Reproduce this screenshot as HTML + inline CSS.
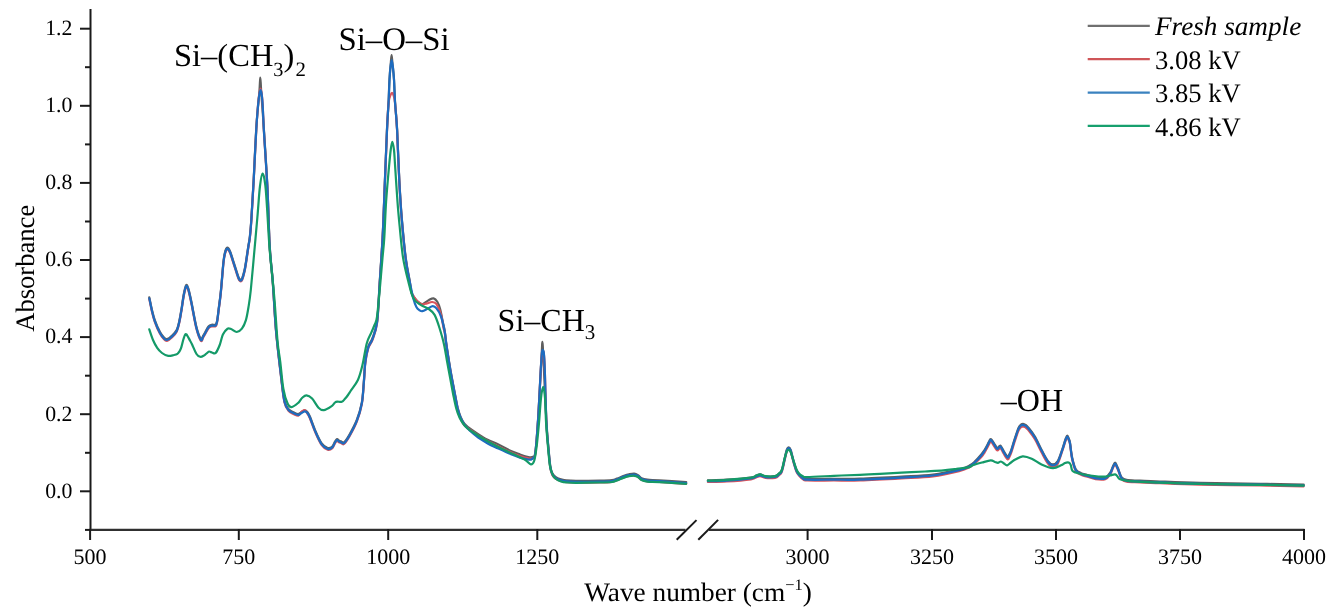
<!DOCTYPE html>
<html><head><meta charset="utf-8"><style>
html,body{margin:0;padding:0;background:#fff;}
body{width:1342px;height:611px;overflow:hidden;font-family:"Liberation Serif",serif;}
svg{display:block;filter:blur(0.35px);}
text{fill:#000;text-rendering:geometricPrecision;}
</style></head><body>
<svg width="1342" height="611" viewBox="0 0 1342 611">
<rect width="1342" height="611" fill="#fff"/>
<path d="M149.3,297.4 C149.8,299.5 151.1,306.4 152.0,310.1 C152.9,313.9 153.4,316.2 154.7,319.9 C156.0,323.6 158.4,329.2 160.0,332.1 C161.6,335.1 162.8,336.4 164.0,337.6 C165.2,338.8 165.8,339.4 167.0,339.1 C168.2,338.9 169.9,337.7 171.5,336.1 C173.1,334.6 175.5,332.5 176.8,329.8 C178.1,327.1 178.7,323.8 179.5,320.1 C180.3,316.4 180.9,312.2 181.7,307.7 C182.4,303.2 183.2,296.9 184.0,293.1 C184.8,289.3 185.4,285.8 186.2,285.1 C186.9,284.4 187.6,286.2 188.5,289.1 C189.4,292.1 190.3,296.4 191.6,302.8 C192.9,309.2 194.9,321.2 196.5,327.3 C198.1,333.4 199.8,337.6 200.9,339.1 C202.0,340.6 202.3,337.2 203.0,336.1 C203.7,335.0 204.3,333.9 205.2,332.3 C206.1,330.7 207.4,327.8 208.5,326.5 C209.6,325.2 210.6,325.0 211.8,324.7 C213.0,324.4 214.8,325.3 215.7,324.5 C216.6,323.7 216.7,322.5 217.2,320.1 C217.7,317.7 218.0,314.1 218.5,310.1 C219.0,306.1 219.8,300.4 220.3,296.1 C220.8,291.8 221.0,289.9 221.5,284.1 C222.0,278.3 222.9,266.6 223.5,261.1 C224.1,255.6 224.7,253.3 225.3,251.1 C226.0,248.9 226.6,247.7 227.4,247.7 C228.2,247.7 229.0,248.9 230.0,251.1 C231.0,253.3 232.2,257.8 233.3,261.1 C234.4,264.4 235.6,268.4 236.5,271.1 C237.4,273.8 237.9,275.7 238.5,277.1 C239.1,278.5 239.6,279.4 240.2,279.6 C240.8,279.8 241.5,279.7 242.2,278.1 C242.9,276.5 243.8,273.2 244.5,270.1 C245.2,267.0 245.7,263.6 246.3,259.6 C246.9,255.6 247.7,250.0 248.3,246.1 C248.9,242.2 249.4,240.7 249.9,236.1 C250.4,231.5 250.8,227.8 251.4,218.3 C252.0,208.8 252.9,194.2 253.7,179.1 C254.5,164.0 255.4,142.2 256.3,127.9 C257.2,113.6 258.6,101.4 259.3,93.0 C260.0,84.6 260.0,77.5 260.3,77.5 C260.6,77.5 260.7,84.6 261.3,93.0 C261.9,101.4 262.8,112.3 263.8,127.9 C264.8,143.5 266.4,167.1 267.4,186.7 C268.4,206.3 268.8,230.0 269.7,245.6 C270.6,261.2 271.6,266.2 272.7,280.2 C273.8,294.2 274.6,313.2 276.0,329.4 C277.4,345.6 279.9,365.5 281.3,377.4 C282.7,389.3 283.3,395.5 284.5,400.8 C285.7,406.1 287.1,407.4 288.7,409.3 C290.3,411.2 292.4,411.7 294.0,412.5 C295.6,413.3 297.1,414.1 298.3,414.0 C299.6,413.9 300.4,412.7 301.5,412.1 C302.6,411.5 303.7,410.4 304.7,410.4 C305.7,410.4 306.6,411.0 307.5,412.1 C308.4,413.2 308.7,413.7 310.0,416.8 C311.3,419.9 313.4,426.2 315.3,430.6 C317.2,435.0 319.6,440.5 321.7,443.4 C323.8,446.3 325.9,447.5 327.7,448.0 C329.5,448.5 331.1,447.6 332.3,446.5 C333.5,445.4 334.2,442.8 335.0,441.6 C335.8,440.4 336.3,439.3 337.0,439.1 C337.7,438.9 338.4,440.2 339.0,440.6 C339.6,441.0 340.1,440.9 340.9,441.2 C341.7,441.5 342.6,443.4 344.0,442.3 C345.4,441.2 347.3,438.5 349.4,434.8 C351.5,431.1 354.7,425.4 356.8,420.0 C358.9,414.6 360.6,408.9 361.8,402.6 C363.0,396.3 363.2,389.0 363.8,382.1 C364.4,375.2 364.6,367.4 365.3,361.5 C366.0,355.6 367.0,350.6 368.2,346.7 C369.4,342.8 371.1,342.2 372.6,337.9 C374.1,333.6 375.9,330.1 377.1,321.1 C378.3,312.1 378.7,297.9 379.6,283.8 C380.5,269.8 381.7,253.6 382.6,236.8 C383.5,220.0 384.1,200.9 384.8,183.0 C385.5,165.1 386.4,142.8 387.0,129.1 C387.6,115.4 388.2,109.4 388.6,101.1 C389.0,92.8 389.1,85.3 389.5,79.1 C389.9,72.9 390.3,68.0 390.7,64.0 C391.1,60.0 391.3,55.0 391.6,55.0 C391.9,55.0 392.1,60.0 392.5,64.0 C392.9,68.0 393.6,72.9 394.0,79.1 C394.4,85.3 394.5,92.8 395.0,101.1 C395.5,109.4 396.4,115.9 397.1,129.1 C397.8,142.3 398.5,165.2 399.3,180.1 C400.1,195.0 400.7,205.5 401.8,218.4 C402.9,231.3 404.4,247.4 405.7,257.7 C407.0,268.0 408.6,274.3 409.6,280.1 C410.6,285.9 410.7,289.7 411.5,292.6 C412.3,295.6 413.5,296.3 414.5,297.8 C415.5,299.3 416.2,300.3 417.4,301.4 C418.6,302.5 420.5,304.0 421.8,304.2 C423.1,304.4 423.8,303.3 425.0,302.6 C426.2,301.9 427.6,300.7 429.0,300.0 C430.4,299.3 432.2,298.1 433.6,298.4 C435.0,298.7 436.2,300.0 437.3,301.8 C438.4,303.6 439.3,305.9 440.2,309.3 C441.1,312.7 442.1,318.5 442.8,322.0 C443.5,325.5 444.0,326.7 444.6,330.1 C445.2,333.5 445.5,337.4 446.2,342.6 C446.9,347.8 448.1,355.2 449.0,361.1 C449.9,367.0 450.9,372.6 451.9,377.9 C452.9,383.2 453.9,388.2 454.8,393.1 C455.8,398.0 456.7,403.5 457.6,407.4 C458.6,411.3 459.4,413.9 460.5,416.6 C461.6,419.3 462.5,421.4 464.4,423.6 C466.3,425.8 468.7,427.7 471.9,430.0 C475.1,432.3 479.3,435.2 483.7,437.6 C488.1,440.0 493.8,442.4 498.4,444.6 C502.9,446.8 507.4,449.4 511.0,451.0 C514.6,452.6 517.3,453.5 520.0,454.5 C522.7,455.5 525.3,456.4 527.3,456.8 C529.3,457.2 530.7,457.8 532.0,457.0 C533.3,456.2 534.3,459.0 535.3,452.3 C536.3,445.6 537.2,433.0 538.2,416.9 C539.2,400.9 540.9,368.5 541.6,356.0 C542.3,343.5 542.1,341.8 542.4,341.8 C542.7,341.8 542.6,343.1 543.3,356.0 C543.9,368.9 545.5,404.1 546.3,419.1 C547.1,434.1 547.6,438.3 548.3,446.1 C549.0,453.9 549.6,461.5 550.3,466.1 C551.0,470.7 551.6,471.8 552.5,473.6 C553.4,475.4 554.2,476.0 555.5,476.9 C556.8,477.8 558.2,478.5 560.0,479.1 C561.8,479.7 563.3,480.1 566.0,480.4 C568.7,480.7 570.3,480.9 576.0,480.9 C581.7,481.0 594.0,480.8 600.0,480.7 C606.0,480.6 609.2,480.5 612.0,480.1 C614.8,479.8 615.0,479.3 617.0,478.6 C619.0,477.9 622.0,476.4 624.0,475.7 C626.0,475.0 627.3,474.6 629.0,474.3 C630.7,474.0 632.7,473.6 634.2,473.7 C635.7,473.8 636.8,474.4 638.0,475.1 C639.2,475.8 640.0,477.3 641.5,478.1 C643.0,478.9 644.3,479.3 647.3,479.7 C650.2,480.1 652.7,479.9 659.2,480.3 C665.7,480.7 681.7,481.8 686.2,482.1" fill="none" stroke="#5e5e5e" stroke-width="2.2" stroke-linejoin="round" stroke-linecap="round"/>
<path d="M707.9,480.3 C711.0,480.2 719.6,480.2 726.8,479.7 C734.0,479.3 746.0,478.3 751.0,477.6 C756.0,476.9 755.0,476.0 756.5,475.5 C758.0,475.0 758.7,474.3 760.2,474.4 C761.7,474.5 763.0,476.0 765.5,476.3 C768.0,476.6 772.9,476.6 775.1,476.1 C777.4,475.7 777.9,474.6 779.0,473.6 C780.1,472.6 780.9,472.5 781.8,470.1 C782.7,467.7 783.7,462.5 784.5,459.1 C785.3,455.7 786.1,451.6 786.8,449.6 C787.5,447.6 788.1,447.2 788.8,447.3 C789.5,447.4 789.9,447.7 790.8,450.1 C791.6,452.6 792.9,458.7 793.9,462.0 C794.9,465.3 795.6,468.1 796.5,470.1 C797.4,472.1 798.1,472.9 799.2,474.1 C800.3,475.4 801.6,476.8 803.0,477.6 C804.4,478.4 802.1,478.6 807.3,478.8 C812.5,479.0 825.2,478.8 834.0,478.8 C842.8,478.8 848.7,479.1 860.0,478.7 C871.3,478.4 889.5,477.4 901.7,476.7 C913.9,476.0 923.4,475.8 933.0,474.6 C942.6,473.4 953.0,470.9 959.1,469.4 C965.2,467.9 966.9,466.9 969.5,465.6 C972.1,464.3 973.0,463.3 975.0,461.4 C977.0,459.5 979.9,456.2 981.5,454.3 C983.1,452.4 983.6,451.5 984.5,450.1 C985.4,448.7 986.0,447.6 986.8,446.1 C987.6,444.6 988.5,442.4 989.2,441.3 C989.9,440.2 990.1,438.6 991.0,439.2 C991.9,439.8 993.8,443.2 994.8,444.7 C995.8,446.2 996.5,447.8 997.3,448.0 C998.1,448.2 998.9,446.4 999.5,446.1 C1000.1,445.8 1000.2,445.2 1000.9,446.1 C1001.6,447.0 1002.7,449.5 1003.8,451.3 C1004.9,453.1 1006.5,456.2 1007.5,456.7 C1008.5,457.2 1008.8,455.3 1009.5,454.1 C1010.2,452.9 1010.6,451.9 1011.5,449.3 C1012.4,446.7 1013.6,442.2 1014.8,438.6 C1016.0,435.1 1017.5,430.3 1018.5,428.0 C1019.5,425.7 1020.2,425.3 1021.0,424.6 C1021.8,423.9 1022.2,423.9 1023.0,423.9 C1023.8,424.0 1024.6,424.3 1025.5,424.9 C1026.4,425.5 1026.8,425.7 1028.4,427.6 C1030.0,429.6 1032.7,432.9 1034.9,436.6 C1037.1,440.3 1039.3,445.6 1041.5,449.7 C1043.7,453.8 1046.1,458.7 1048.0,461.1 C1049.9,463.6 1051.3,464.4 1052.9,464.4 C1054.5,464.4 1056.2,463.8 1057.8,461.1 C1059.4,458.4 1061.4,451.7 1062.7,448.0 C1064.0,444.3 1064.7,441.2 1065.5,439.1 C1066.3,437.1 1066.7,435.7 1067.3,435.7 C1067.9,435.7 1068.5,437.9 1069.0,439.1 C1069.5,440.3 1069.6,440.0 1070.1,443.1 C1070.6,446.2 1071.2,453.4 1072.2,457.8 C1073.2,462.2 1074.3,466.8 1075.8,469.3 C1077.3,471.9 1079.1,472.2 1081.0,473.1 C1082.9,474.1 1084.9,474.3 1087.3,475.0 C1089.7,475.7 1092.5,477.1 1095.5,477.5 C1098.5,477.9 1102.8,478.3 1105.3,477.5 C1107.8,476.7 1108.9,474.5 1110.2,472.6 C1111.5,470.7 1112.2,467.8 1113.0,466.1 C1113.8,464.5 1114.4,462.7 1115.1,462.7 C1115.8,462.7 1116.5,465.0 1117.0,466.1 C1117.5,467.2 1117.6,467.4 1118.4,469.3 C1119.2,471.2 1120.3,475.7 1121.7,477.5 C1123.1,479.3 1123.5,479.4 1126.6,479.9 C1129.6,480.4 1134.4,480.4 1140.0,480.7 C1145.6,481.0 1150.0,481.1 1160.0,481.5 C1170.0,481.9 1183.3,482.5 1200.0,482.9 C1216.7,483.3 1242.7,483.5 1260.0,483.8 C1277.3,484.1 1296.4,484.5 1303.7,484.6" fill="none" stroke="#5e5e5e" stroke-width="2.2" stroke-linejoin="round" stroke-linecap="round"/>
<path d="M149.3,299.1 C149.8,301.2 151.1,308.1 152.0,311.8 C152.9,315.6 153.4,317.9 154.7,321.6 C156.0,325.3 158.4,330.9 160.0,333.8 C161.6,336.8 162.8,338.1 164.0,339.3 C165.2,340.5 165.8,341.1 167.0,340.8 C168.2,340.6 169.9,339.4 171.5,337.8 C173.1,336.2 175.5,334.2 176.8,331.5 C178.1,328.8 178.7,325.5 179.5,321.8 C180.3,318.1 180.9,313.9 181.7,309.4 C182.4,304.9 183.2,298.6 184.0,294.8 C184.8,291.0 185.4,287.5 186.2,286.8 C186.9,286.1 187.6,287.9 188.5,290.8 C189.4,293.8 190.3,298.1 191.6,304.5 C192.9,310.9 194.9,322.9 196.5,329.0 C198.1,335.1 199.8,339.3 200.9,340.8 C202.0,342.3 202.3,338.9 203.0,337.8 C203.7,336.7 204.3,335.6 205.2,334.0 C206.1,332.4 207.4,329.5 208.5,328.2 C209.6,326.9 210.6,326.7 211.8,326.4 C213.0,326.1 214.8,327.0 215.7,326.2 C216.6,325.4 216.7,324.2 217.2,321.8 C217.7,319.4 218.0,315.8 218.5,311.8 C219.0,307.8 219.8,302.1 220.3,297.8 C220.8,293.5 221.0,291.6 221.5,285.8 C222.0,280.0 222.9,268.3 223.5,262.8 C224.1,257.3 224.7,255.0 225.3,252.8 C226.0,250.6 226.6,249.4 227.4,249.4 C228.2,249.4 229.0,250.6 230.0,252.8 C231.0,255.0 232.2,259.5 233.3,262.8 C234.4,266.1 235.6,270.1 236.5,272.8 C237.4,275.5 237.9,277.4 238.5,278.8 C239.1,280.2 239.6,281.1 240.2,281.3 C240.8,281.5 241.5,281.4 242.2,279.8 C242.9,278.2 243.8,274.9 244.5,271.8 C245.2,268.7 245.7,265.3 246.3,261.3 C246.9,257.3 247.7,251.7 248.3,247.8 C248.9,243.9 249.4,242.4 249.9,237.8 C250.4,233.2 250.8,229.5 251.4,220.0 C252.0,210.5 252.9,195.9 253.7,180.8 C254.5,165.7 255.5,142.8 256.3,129.2 C257.1,115.6 257.9,106.0 258.6,99.2 C259.3,92.4 259.9,88.6 260.5,88.6 C261.1,88.6 261.8,92.4 262.3,99.2 C262.9,106.0 263.0,114.3 263.8,129.2 C264.6,144.0 266.4,168.7 267.4,188.4 C268.4,208.1 268.8,231.7 269.7,247.3 C270.6,262.9 271.6,267.9 272.7,281.9 C273.8,295.9 274.6,314.9 276.0,331.1 C277.4,347.3 279.9,367.2 281.3,379.1 C282.7,391.0 283.3,397.2 284.5,402.5 C285.7,407.8 287.1,409.1 288.7,411.0 C290.3,412.9 292.4,413.4 294.0,414.2 C295.6,415.0 297.1,416.1 298.3,415.7 C299.6,415.3 300.4,412.7 301.5,411.8 C302.6,410.9 303.7,409.8 304.7,410.1 C305.7,410.4 306.6,412.4 307.5,413.8 C308.4,415.2 308.7,415.4 310.0,418.5 C311.3,421.6 313.4,427.9 315.3,432.3 C317.2,436.7 319.6,442.2 321.7,445.1 C323.8,448.0 325.9,449.2 327.7,449.7 C329.5,450.2 331.1,449.3 332.3,448.2 C333.5,447.1 334.2,444.5 335.0,443.3 C335.8,442.1 336.3,441.0 337.0,440.8 C337.7,440.6 338.4,441.9 339.0,442.3 C339.6,442.7 340.1,442.6 340.9,442.9 C341.7,443.2 342.6,445.1 344.0,444.0 C345.4,442.9 347.3,440.2 349.4,436.5 C351.5,432.8 354.7,427.1 356.8,421.7 C358.9,416.3 360.6,410.6 361.8,404.3 C363.0,398.0 363.2,390.7 363.8,383.8 C364.4,376.9 364.6,369.1 365.3,363.2 C366.0,357.3 367.0,352.3 368.2,348.4 C369.4,344.5 371.1,343.9 372.6,339.6 C374.1,335.3 375.9,331.8 377.1,322.8 C378.3,313.8 378.7,299.6 379.6,285.5 C380.5,271.4 381.7,255.3 382.6,238.5 C383.5,221.7 384.1,202.7 384.8,184.7 C385.5,166.8 386.4,144.5 387.0,130.8 C387.6,117.2 388.0,108.8 388.6,102.8 C389.2,96.8 390.0,96.7 390.6,95.0 C391.2,93.3 391.5,92.8 392.0,92.8 C392.5,92.8 392.9,93.3 393.4,95.0 C393.9,96.7 394.4,96.8 395.0,102.8 C395.6,108.8 396.4,117.6 397.1,130.8 C397.8,144.0 398.5,166.9 399.3,181.8 C400.1,196.7 400.7,207.2 401.8,220.1 C402.9,233.0 404.4,249.1 405.7,259.4 C407.0,269.7 408.6,276.3 409.6,281.8 C410.6,287.3 410.7,289.8 411.5,292.4 C412.3,295.0 413.5,296.1 414.5,297.6 C415.5,299.1 416.2,300.1 417.4,301.2 C418.6,302.3 420.2,303.9 421.8,304.3 C423.4,304.7 425.3,303.8 427.0,303.4 C428.7,303.0 430.5,301.9 432.1,302.0 C433.7,302.1 435.0,302.1 436.5,304.2 C438.0,306.3 439.8,310.5 441.0,314.5 C442.2,318.5 442.9,325.1 443.5,328.0 C444.1,330.9 444.2,329.1 444.6,331.8 C445.1,334.5 445.5,339.1 446.2,344.3 C446.9,349.5 448.1,356.9 449.0,362.8 C449.9,368.7 450.9,374.3 451.9,379.6 C452.9,384.9 453.9,389.9 454.8,394.8 C455.8,399.7 456.7,405.2 457.6,409.1 C458.6,413.0 459.4,415.6 460.5,418.3 C461.6,421.0 462.5,423.2 464.4,425.3 C466.3,427.4 468.7,428.9 471.9,431.2 C475.1,433.5 479.3,436.4 483.7,439.0 C488.1,441.6 493.8,444.2 498.4,446.5 C502.9,448.8 507.4,451.0 511.0,452.6 C514.6,454.2 517.3,455.1 520.0,456.0 C522.7,456.9 525.3,457.8 527.3,458.2 C529.3,458.6 530.7,459.1 532.0,458.4 C533.3,457.7 534.3,460.6 535.3,454.0 C536.3,447.4 537.2,433.8 538.2,418.6 C539.2,403.4 540.4,374.1 541.2,362.8 C542.0,351.5 542.2,350.6 542.8,350.6 C543.3,350.6 543.9,351.1 544.5,362.8 C545.1,374.5 545.7,406.6 546.3,420.8 C546.9,435.0 547.6,440.0 548.3,447.8 C549.0,455.6 549.6,463.2 550.3,467.8 C551.0,472.4 551.6,473.5 552.5,475.3 C553.4,477.1 554.2,477.7 555.5,478.6 C556.8,479.5 558.2,480.2 560.0,480.8 C561.8,481.4 563.3,481.8 566.0,482.1 C568.7,482.4 570.3,482.6 576.0,482.6 C581.7,482.7 594.0,482.5 600.0,482.4 C606.0,482.3 609.2,482.2 612.0,481.8 C614.8,481.4 615.0,481.0 617.0,480.3 C619.0,479.6 622.0,478.1 624.0,477.4 C626.0,476.7 627.3,476.3 629.0,476.0 C630.7,475.7 632.7,475.3 634.2,475.4 C635.7,475.5 636.8,476.1 638.0,476.8 C639.2,477.5 640.0,479.0 641.5,479.8 C643.0,480.6 644.3,481.0 647.3,481.4 C650.2,481.8 652.7,481.6 659.2,482.0 C665.7,482.4 681.7,483.5 686.2,483.8" fill="none" stroke="#d9535b" stroke-width="2.2" stroke-linejoin="round" stroke-linecap="round"/>
<path d="M707.9,482.0 C711.0,481.9 719.6,481.9 726.8,481.4 C734.0,481.0 746.0,480.0 751.0,479.3 C756.0,478.6 755.0,477.7 756.5,477.2 C758.0,476.7 758.7,476.0 760.2,476.1 C761.7,476.2 763.0,477.7 765.5,478.0 C768.0,478.3 772.9,478.2 775.1,477.8 C777.4,477.4 777.9,476.3 779.0,475.3 C780.1,474.3 780.9,474.2 781.8,471.8 C782.7,469.4 783.7,464.2 784.5,460.8 C785.3,457.4 786.1,453.3 786.8,451.3 C787.5,449.3 788.1,448.9 788.8,449.0 C789.5,449.1 789.9,449.4 790.8,451.8 C791.6,454.2 792.9,460.4 793.9,463.7 C794.9,467.0 795.6,469.8 796.5,471.8 C797.4,473.8 798.1,474.6 799.2,475.8 C800.3,477.1 801.6,478.5 803.0,479.3 C804.4,480.1 802.1,480.3 807.3,480.5 C812.5,480.7 825.2,480.5 834.0,480.5 C842.8,480.5 848.7,480.8 860.0,480.4 C871.3,480.1 889.5,479.1 901.7,478.4 C913.9,477.7 923.4,477.5 933.0,476.3 C942.6,475.1 953.0,472.6 959.1,471.1 C965.2,469.6 966.9,468.6 969.5,467.3 C972.1,466.0 973.0,464.9 975.0,463.1 C977.0,461.4 979.9,458.6 981.5,456.8 C983.1,455.1 983.6,454.0 984.5,452.6 C985.4,451.2 986.0,450.1 986.8,448.6 C987.6,447.1 988.5,444.9 989.2,443.8 C989.9,442.7 990.1,441.1 991.0,441.7 C991.9,442.3 993.8,445.7 994.8,447.2 C995.8,448.7 996.5,450.3 997.3,450.5 C998.1,450.7 998.9,448.9 999.5,448.6 C1000.1,448.3 1000.2,447.7 1000.9,448.6 C1001.6,449.5 1002.7,452.0 1003.8,453.8 C1004.9,455.6 1006.5,458.7 1007.5,459.2 C1008.5,459.7 1008.8,457.8 1009.5,456.6 C1010.2,455.4 1010.6,454.4 1011.5,451.8 C1012.4,449.2 1013.6,444.7 1014.8,441.1 C1016.0,437.6 1017.5,432.8 1018.5,430.5 C1019.5,428.2 1020.2,427.8 1021.0,427.1 C1021.8,426.4 1022.2,426.4 1023.0,426.4 C1023.8,426.5 1024.6,426.8 1025.5,427.4 C1026.4,428.0 1026.8,428.2 1028.4,430.1 C1030.0,432.1 1032.7,435.4 1034.9,439.1 C1037.1,442.8 1039.3,448.1 1041.5,452.2 C1043.7,456.3 1046.1,461.2 1048.0,463.6 C1049.9,466.1 1051.3,466.9 1052.9,466.9 C1054.5,466.9 1056.2,466.5 1057.8,463.6 C1059.4,460.7 1061.4,453.5 1062.7,449.7 C1064.0,445.9 1064.7,442.9 1065.5,440.8 C1066.3,438.8 1066.7,437.4 1067.3,437.4 C1067.9,437.4 1068.5,439.6 1069.0,440.8 C1069.5,442.0 1069.6,441.7 1070.1,444.8 C1070.6,447.9 1071.2,455.1 1072.2,459.5 C1073.2,463.9 1074.3,468.4 1075.8,471.0 C1077.3,473.6 1079.1,473.9 1081.0,474.8 C1082.9,475.8 1084.9,476.0 1087.3,476.7 C1089.7,477.4 1092.5,478.8 1095.5,479.2 C1098.5,479.6 1102.8,480.0 1105.3,479.2 C1107.8,478.4 1108.9,476.2 1110.2,474.3 C1111.5,472.4 1112.2,469.4 1113.0,467.8 C1113.8,466.2 1114.4,464.4 1115.1,464.4 C1115.8,464.4 1116.5,466.7 1117.0,467.8 C1117.5,468.9 1117.6,469.1 1118.4,471.0 C1119.2,472.9 1120.3,477.4 1121.7,479.2 C1123.1,481.0 1123.5,481.1 1126.6,481.6 C1129.6,482.1 1134.4,482.1 1140.0,482.4 C1145.6,482.7 1150.0,482.8 1160.0,483.2 C1170.0,483.6 1183.3,484.2 1200.0,484.6 C1216.7,485.0 1242.7,485.2 1260.0,485.5 C1277.3,485.8 1296.4,486.2 1303.7,486.3" fill="none" stroke="#d9535b" stroke-width="2.2" stroke-linejoin="round" stroke-linecap="round"/>
<path d="M149.3,298.3 C149.8,300.4 151.1,307.2 152.0,311.0 C152.9,314.8 153.4,317.1 154.7,320.8 C156.0,324.5 158.4,330.1 160.0,333.0 C161.6,335.9 162.8,337.3 164.0,338.5 C165.2,339.7 165.8,340.2 167.0,340.0 C168.2,339.8 169.9,338.6 171.5,337.0 C173.1,335.4 175.5,333.4 176.8,330.7 C178.1,328.0 178.7,324.7 179.5,321.0 C180.3,317.3 180.9,313.1 181.7,308.6 C182.4,304.1 183.2,297.8 184.0,294.0 C184.8,290.2 185.4,286.7 186.2,286.0 C186.9,285.3 187.6,287.1 188.5,290.0 C189.4,292.9 190.3,297.3 191.6,303.7 C192.9,310.1 194.9,322.1 196.5,328.2 C198.1,334.2 199.8,338.5 200.9,340.0 C202.0,341.5 202.3,338.1 203.0,337.0 C203.7,335.9 204.3,334.8 205.2,333.2 C206.1,331.6 207.4,328.7 208.5,327.4 C209.6,326.1 210.6,325.9 211.8,325.6 C213.0,325.3 214.8,326.2 215.7,325.4 C216.6,324.6 216.7,323.4 217.2,321.0 C217.7,318.6 218.0,315.0 218.5,311.0 C219.0,307.0 219.8,301.3 220.3,297.0 C220.8,292.7 221.0,290.8 221.5,285.0 C222.0,279.2 222.9,267.5 223.5,262.0 C224.1,256.5 224.7,254.2 225.3,252.0 C226.0,249.8 226.6,248.6 227.4,248.6 C228.2,248.6 229.0,249.8 230.0,252.0 C231.0,254.2 232.2,258.7 233.3,262.0 C234.4,265.3 235.6,269.3 236.5,272.0 C237.4,274.7 237.9,276.6 238.5,278.0 C239.1,279.4 239.6,280.3 240.2,280.5 C240.8,280.7 241.5,280.6 242.2,279.0 C242.9,277.4 243.8,274.1 244.5,271.0 C245.2,267.9 245.7,264.5 246.3,260.5 C246.9,256.5 247.7,250.9 248.3,247.0 C248.9,243.1 249.4,241.6 249.9,237.0 C250.4,232.4 250.8,228.7 251.4,219.2 C252.0,209.7 252.9,195.1 253.7,180.0 C254.5,164.9 255.5,142.1 256.3,128.8 C257.1,115.5 257.9,106.5 258.6,100.0 C259.3,93.5 259.9,89.8 260.5,89.8 C261.1,89.8 261.8,93.5 262.3,100.0 C262.9,106.5 263.0,114.2 263.8,128.8 C264.6,143.4 266.4,168.0 267.4,187.6 C268.4,207.2 268.8,230.9 269.7,246.5 C270.6,262.1 271.6,267.1 272.7,281.1 C273.8,295.1 274.6,314.1 276.0,330.3 C277.4,346.5 279.9,366.4 281.3,378.3 C282.7,390.2 283.3,396.4 284.5,401.7 C285.7,407.0 287.1,408.2 288.7,410.2 C290.3,412.1 292.4,412.6 294.0,413.4 C295.6,414.2 297.1,415.0 298.3,414.9 C299.6,414.8 300.4,413.6 301.5,413.0 C302.6,412.4 303.7,411.3 304.7,411.3 C305.7,411.3 306.6,411.9 307.5,413.0 C308.4,414.1 308.7,414.6 310.0,417.7 C311.3,420.8 313.4,427.1 315.3,431.5 C317.2,435.9 319.6,441.4 321.7,444.3 C323.8,447.2 325.9,448.4 327.7,448.9 C329.5,449.4 331.1,448.5 332.3,447.4 C333.5,446.3 334.2,443.7 335.0,442.5 C335.8,441.3 336.3,440.2 337.0,440.0 C337.7,439.8 338.4,441.1 339.0,441.5 C339.6,441.9 340.1,441.8 340.9,442.1 C341.7,442.4 342.6,444.3 344.0,443.2 C345.4,442.1 347.3,439.4 349.4,435.7 C351.5,432.0 354.7,426.3 356.8,420.9 C358.9,415.5 360.6,409.8 361.8,403.5 C363.0,397.2 363.2,389.9 363.8,383.0 C364.4,376.1 364.6,368.3 365.3,362.4 C366.0,356.5 367.0,351.5 368.2,347.6 C369.4,343.7 371.1,343.1 372.6,338.8 C374.1,334.5 375.9,331.0 377.1,322.0 C378.3,313.0 378.7,298.8 379.6,284.7 C380.5,270.6 381.7,254.5 382.6,237.7 C383.5,220.9 384.1,201.8 384.8,183.9 C385.5,166.0 386.4,143.7 387.0,130.0 C387.6,116.3 388.2,110.3 388.6,102.0 C389.0,93.7 389.2,85.8 389.5,80.0 C389.8,74.2 390.1,70.3 390.5,67.0 C390.9,63.7 391.3,60.0 391.7,60.0 C392.1,60.0 392.5,63.7 392.9,67.0 C393.3,70.3 393.6,74.2 394.0,80.0 C394.4,85.8 394.5,93.7 395.0,102.0 C395.5,110.3 396.4,116.8 397.1,130.0 C397.8,143.2 398.5,166.1 399.3,181.0 C400.1,195.9 400.7,206.4 401.8,219.3 C402.9,232.2 404.4,248.3 405.7,258.6 C407.0,268.9 408.3,274.3 409.6,281.0 C410.9,287.7 412.4,294.7 413.5,299.0 C414.6,303.3 415.4,305.1 416.4,307.0 C417.4,308.9 418.5,309.6 419.5,310.3 C420.5,311.0 421.1,311.5 422.5,311.2 C423.9,310.9 426.0,309.4 427.7,308.6 C429.4,307.8 431.3,306.2 432.8,306.2 C434.3,306.2 435.1,306.7 436.5,308.4 C437.9,310.1 439.6,312.7 441.0,316.5 C442.4,320.3 443.7,326.5 444.6,331.0 C445.5,335.5 445.5,338.3 446.2,343.5 C446.9,348.7 448.1,356.1 449.0,362.0 C449.9,367.9 450.9,373.5 451.9,378.8 C452.9,384.1 453.9,389.1 454.8,394.0 C455.8,398.9 456.7,404.4 457.6,408.3 C458.6,412.2 459.4,414.8 460.5,417.5 C461.6,420.2 463.1,422.6 464.4,424.5 C465.6,426.4 466.8,427.5 468.0,428.8 C469.2,430.1 470.2,431.1 471.9,432.5 C473.6,433.9 476.2,436.1 478.2,437.5 C480.2,438.9 481.7,439.8 483.7,441.0 C485.7,442.2 487.6,443.5 490.0,444.8 C492.4,446.1 494.9,447.0 498.4,448.6 C501.9,450.2 507.4,452.7 511.0,454.2 C514.6,455.7 517.3,456.7 520.0,457.6 C522.7,458.5 525.5,459.1 527.3,459.4 C529.1,459.7 530.0,459.9 531.0,459.6 C532.0,459.3 532.8,458.6 533.5,457.5 C534.2,456.4 534.5,459.8 535.3,453.2 C536.1,446.6 537.2,433.0 538.2,417.8 C539.2,402.6 540.4,373.3 541.2,362.0 C542.0,350.7 542.2,349.8 542.8,349.8 C543.3,349.8 543.9,350.3 544.5,362.0 C545.1,373.7 545.7,405.8 546.3,420.0 C546.9,434.2 547.6,439.2 548.3,447.0 C549.0,454.8 549.6,462.4 550.3,467.0 C551.0,471.6 551.6,472.7 552.5,474.5 C553.4,476.3 554.2,476.9 555.5,477.8 C556.8,478.7 558.2,479.4 560.0,480.0 C561.8,480.6 563.3,481.0 566.0,481.3 C568.7,481.6 570.3,481.8 576.0,481.8 C581.7,481.9 594.0,481.7 600.0,481.6 C606.0,481.5 609.2,481.4 612.0,481.0 C614.8,480.6 615.0,480.2 617.0,479.5 C619.0,478.8 622.0,477.3 624.0,476.6 C626.0,475.9 627.3,475.5 629.0,475.2 C630.7,474.9 632.7,474.5 634.2,474.6 C635.7,474.7 636.8,475.3 638.0,476.0 C639.2,476.7 640.0,478.2 641.5,479.0 C643.0,479.8 644.3,480.2 647.3,480.6 C650.2,481.0 652.7,480.8 659.2,481.2 C665.7,481.6 681.7,482.7 686.2,483.0" fill="none" stroke="#1d6cc0" stroke-width="2.2" stroke-linejoin="round" stroke-linecap="round"/>
<path d="M707.9,481.2 C711.0,481.1 719.6,481.1 726.8,480.6 C734.0,480.2 746.0,479.2 751.0,478.5 C756.0,477.8 755.0,476.9 756.5,476.4 C758.0,475.9 758.7,475.2 760.2,475.3 C761.7,475.4 763.0,476.9 765.5,477.2 C768.0,477.5 772.9,477.4 775.1,477.0 C777.4,476.6 777.9,475.5 779.0,474.5 C780.1,473.5 780.9,473.4 781.8,471.0 C782.7,468.6 783.7,463.4 784.5,460.0 C785.3,456.6 786.1,452.5 786.8,450.5 C787.5,448.5 788.1,448.1 788.8,448.2 C789.5,448.3 789.9,448.6 790.8,451.0 C791.6,453.4 792.9,459.6 793.9,462.9 C794.9,466.2 795.6,469.0 796.5,471.0 C797.4,473.0 798.1,473.8 799.2,475.0 C800.3,476.2 801.6,477.7 803.0,478.5 C804.4,479.3 802.1,479.5 807.3,479.7 C812.5,479.9 825.2,479.7 834.0,479.7 C842.8,479.7 848.7,480.0 860.0,479.6 C871.3,479.2 889.5,478.3 901.7,477.6 C913.9,476.9 923.4,476.7 933.0,475.5 C942.6,474.3 953.0,471.8 959.1,470.3 C965.2,468.8 966.9,467.8 969.5,466.5 C972.1,465.2 973.0,464.2 975.0,462.3 C977.0,460.4 979.9,457.1 981.5,455.2 C983.1,453.3 983.6,452.4 984.5,451.0 C985.4,449.6 986.0,448.5 986.8,447.0 C987.6,445.5 988.5,443.3 989.2,442.2 C989.9,441.1 990.1,439.5 991.0,440.1 C991.9,440.7 993.8,444.1 994.8,445.6 C995.8,447.1 996.5,448.7 997.3,448.9 C998.1,449.1 998.9,447.3 999.5,447.0 C1000.1,446.7 1000.2,446.1 1000.9,447.0 C1001.6,447.9 1002.7,450.4 1003.8,452.2 C1004.9,454.0 1006.5,457.1 1007.5,457.6 C1008.5,458.1 1008.8,456.2 1009.5,455.0 C1010.2,453.8 1010.6,452.8 1011.5,450.2 C1012.4,447.6 1013.6,443.1 1014.8,439.5 C1016.0,435.9 1017.5,431.2 1018.5,428.9 C1019.5,426.6 1020.2,426.2 1021.0,425.5 C1021.8,424.8 1022.2,424.8 1023.0,424.8 C1023.8,424.9 1024.6,425.2 1025.5,425.8 C1026.4,426.4 1026.8,426.6 1028.4,428.5 C1030.0,430.4 1032.7,433.8 1034.9,437.5 C1037.1,441.2 1039.3,446.5 1041.5,450.6 C1043.7,454.7 1046.1,459.6 1048.0,462.0 C1049.9,464.4 1051.3,465.3 1052.9,465.3 C1054.5,465.3 1056.2,464.7 1057.8,462.0 C1059.4,459.3 1061.4,452.6 1062.7,448.9 C1064.0,445.2 1064.7,442.1 1065.5,440.0 C1066.3,437.9 1066.7,436.6 1067.3,436.6 C1067.9,436.6 1068.5,438.8 1069.0,440.0 C1069.5,441.2 1069.6,440.9 1070.1,444.0 C1070.6,447.1 1071.2,454.3 1072.2,458.7 C1073.2,463.1 1074.3,467.6 1075.8,470.2 C1077.3,472.8 1079.1,473.1 1081.0,474.0 C1082.9,474.9 1084.9,475.2 1087.3,475.9 C1089.7,476.6 1092.5,478.0 1095.5,478.4 C1098.5,478.8 1102.8,479.2 1105.3,478.4 C1107.8,477.6 1108.9,475.4 1110.2,473.5 C1111.5,471.6 1112.2,468.6 1113.0,467.0 C1113.8,465.4 1114.4,463.6 1115.1,463.6 C1115.8,463.6 1116.5,465.9 1117.0,467.0 C1117.5,468.1 1117.6,468.3 1118.4,470.2 C1119.2,472.1 1120.3,476.6 1121.7,478.4 C1123.1,480.2 1123.5,480.3 1126.6,480.8 C1129.6,481.3 1134.4,481.3 1140.0,481.6 C1145.6,481.9 1150.0,482.0 1160.0,482.4 C1170.0,482.8 1183.3,483.4 1200.0,483.8 C1216.7,484.2 1242.7,484.4 1260.0,484.7 C1277.3,485.0 1296.4,485.4 1303.7,485.5" fill="none" stroke="#1d6cc0" stroke-width="2.2" stroke-linejoin="round" stroke-linecap="round"/>
<path d="M149.3,329.4 C149.9,331.2 151.7,336.9 153.0,340.0 C154.3,343.1 155.7,345.6 157.2,347.8 C158.7,350.0 160.2,351.6 162.0,353.0 C163.8,354.4 166.2,355.6 168.2,355.9 C170.2,356.2 172.5,355.3 174.0,355.0 C175.5,354.7 176.5,354.5 177.4,353.9 C178.3,353.3 178.8,352.4 179.5,351.3 C180.2,350.2 180.6,349.4 181.3,347.3 C182.0,345.2 182.8,341.2 183.5,339.0 C184.2,336.8 184.8,334.7 185.5,334.2 C186.2,333.7 186.8,334.9 187.5,336.0 C188.2,337.1 189.2,339.1 190.0,340.5 C190.8,341.9 191.0,342.2 192.1,344.5 C193.2,346.8 195.2,351.9 196.5,354.0 C197.8,356.1 199.0,356.5 200.2,356.8 C201.4,357.1 202.8,356.2 203.9,355.6 C205.0,355.1 205.6,354.2 206.5,353.5 C207.4,352.8 208.2,351.7 209.1,351.5 C210.0,351.3 210.9,352.3 212.0,352.5 C213.1,352.7 214.4,354.1 215.7,352.9 C217.0,351.6 218.5,348.1 219.7,345.0 C220.9,341.9 221.6,337.3 222.9,334.6 C224.2,331.9 226.1,329.6 227.5,328.7 C228.9,327.8 230.0,328.8 231.5,329.3 C233.0,329.9 235.0,332.1 236.7,332.0 C238.4,331.9 240.4,330.7 241.9,328.7 C243.4,326.7 244.8,323.7 245.9,320.1 C247.0,316.5 247.7,312.0 248.5,307.0 C249.3,302.0 249.9,298.7 250.8,290.0 C251.7,281.3 252.9,267.2 254.0,255.0 C255.1,242.8 256.4,228.5 257.4,217.0 C258.4,205.5 259.1,193.2 260.0,186.0 C260.9,178.8 261.6,173.7 262.5,173.5 C263.4,173.3 264.4,177.8 265.3,185.0 C266.2,192.2 266.9,206.2 267.6,217.0 C268.3,227.8 268.6,236.6 269.7,250.0 C270.8,263.4 273.0,282.2 274.3,297.5 C275.6,312.8 276.6,331.4 277.6,342.0 C278.6,352.6 279.2,353.5 280.2,361.3 C281.2,369.1 282.1,381.9 283.4,389.0 C284.6,396.1 286.3,400.8 287.7,403.8 C289.1,406.8 289.7,407.4 291.5,407.2 C293.3,407.0 296.6,404.3 298.3,402.8 C300.1,401.3 300.6,399.2 302.0,398.0 C303.4,396.8 304.7,395.2 306.4,395.3 C308.1,395.4 310.1,396.4 312.1,398.5 C314.1,400.6 316.6,405.8 318.5,407.7 C320.4,409.6 321.7,410.4 323.8,410.2 C325.9,410.0 329.4,407.7 331.3,406.4 C333.2,405.1 334.0,403.3 335.0,402.5 C336.0,401.7 336.3,401.7 337.4,401.6 C338.5,401.5 340.5,402.3 341.8,401.8 C343.1,401.3 344.0,399.9 345.0,398.8 C346.0,397.7 347.1,396.3 348.0,395.0 C348.9,393.7 349.0,393.5 350.6,391.0 C352.2,388.5 355.9,384.3 357.9,380.0 C359.9,375.7 360.9,371.4 362.4,365.3 C363.9,359.2 365.3,348.6 366.8,343.2 C368.3,337.8 369.9,335.9 371.2,332.9 C372.5,329.9 373.5,327.6 374.5,325.0 C375.5,322.4 376.1,323.7 377.0,317.0 C377.9,310.3 379.3,294.5 380.2,284.7 C381.1,274.9 381.8,265.8 382.5,258.0 C383.2,250.2 383.7,247.1 384.3,237.7 C384.9,228.3 385.3,213.8 386.1,201.8 C386.9,189.8 388.3,174.5 389.1,165.9 C389.9,157.3 390.2,154.0 390.7,150.0 C391.2,146.0 391.8,141.8 392.3,141.8 C392.9,141.8 393.5,146.0 394.0,150.0 C394.5,154.0 394.5,157.3 395.1,165.9 C395.7,174.5 396.7,191.1 397.5,201.8 C398.3,212.5 399.1,220.5 400.0,230.0 C400.9,239.5 401.8,250.1 403.2,258.6 C404.6,267.1 406.5,274.4 408.2,281.0 C409.9,287.6 411.4,294.5 413.5,298.5 C415.6,302.5 418.6,303.4 421.1,305.1 C423.6,306.8 426.2,307.2 428.5,308.8 C430.8,310.4 432.8,311.7 434.6,314.9 C436.4,318.1 438.0,323.2 439.5,328.0 C441.0,332.8 442.6,338.0 443.8,343.5 C445.1,349.0 445.9,355.1 447.0,361.0 C448.1,366.9 449.2,373.1 450.3,378.8 C451.4,384.5 452.3,390.1 453.3,395.0 C454.3,399.9 455.2,404.6 456.2,408.3 C457.2,412.1 458.3,414.9 459.5,417.5 C460.7,420.1 462.1,422.2 463.4,424.0 C464.7,425.8 466.1,427.1 467.5,428.3 C468.9,429.6 469.2,429.7 471.9,431.5 C474.6,433.3 479.3,436.4 483.7,439.0 C488.1,441.6 493.5,444.5 498.4,447.0 C503.3,449.5 508.8,451.9 513.2,454.0 C517.6,456.1 522.1,458.0 525.0,459.7 C527.9,461.4 529.2,464.3 530.8,464.4 C532.3,464.5 533.3,463.7 534.3,460.5 C535.3,457.3 536.0,451.2 536.8,445.0 C537.6,438.8 538.3,430.8 539.0,423.0 C539.7,415.2 540.3,404.0 541.0,398.0 C541.7,392.0 542.5,386.8 543.2,386.8 C543.9,386.8 544.5,392.0 545.0,398.0 C545.5,404.0 545.6,415.2 546.1,423.0 C546.6,430.8 547.1,437.8 547.8,445.0 C548.4,452.2 549.2,461.0 550.0,466.0 C550.8,471.0 551.8,472.8 552.8,475.0 C553.8,477.2 554.6,477.9 556.0,479.0 C557.4,480.1 559.2,480.9 561.0,481.5 C562.8,482.1 564.5,482.3 567.0,482.5 C569.5,482.7 570.5,482.8 576.0,482.8 C581.5,482.8 594.0,482.6 600.0,482.5 C606.0,482.4 609.2,482.3 612.0,482.0 C614.8,481.7 615.0,481.2 617.0,480.5 C619.0,479.8 622.0,478.3 624.0,477.6 C626.0,476.9 627.3,476.5 629.0,476.2 C630.7,475.9 632.7,475.7 634.2,475.8 C635.7,475.9 636.8,476.3 638.0,477.0 C639.2,477.7 640.0,479.2 641.5,480.0 C643.0,480.8 644.3,481.2 647.3,481.6 C650.2,482.0 652.7,481.8 659.2,482.2 C665.7,482.6 681.7,483.5 686.2,483.8" fill="none" stroke="#149a68" stroke-width="2.2" stroke-linejoin="round" stroke-linecap="round"/>
<path d="M707.9,480.6 C711.0,480.5 719.6,480.3 726.8,479.8 C734.0,479.3 746.0,478.3 751.0,477.6 C756.0,476.9 755.0,475.9 756.5,475.4 C758.0,474.8 758.7,474.2 760.2,474.3 C761.7,474.4 763.0,475.9 765.5,476.2 C768.0,476.5 772.9,476.6 775.1,476.2 C777.4,475.8 777.9,474.5 779.0,473.5 C780.1,472.5 780.9,472.4 781.8,470.0 C782.7,467.6 783.7,462.1 784.5,459.0 C785.3,455.9 786.1,453.0 786.8,451.5 C787.5,450.0 788.1,449.7 788.8,449.8 C789.5,449.9 789.9,450.3 790.8,452.3 C791.6,454.3 792.9,459.1 793.9,462.0 C794.9,464.9 795.6,467.5 796.5,469.5 C797.4,471.5 798.1,472.7 799.2,473.8 C800.3,474.9 801.6,475.8 803.0,476.3 C804.4,476.8 802.1,477.1 807.3,477.0 C812.5,476.9 825.2,476.2 834.0,475.8 C842.8,475.4 852.3,475.1 860.0,474.8 C867.7,474.5 873.0,474.2 880.0,473.8 C887.0,473.4 894.2,473.0 901.7,472.6 C909.2,472.2 918.0,471.9 925.0,471.5 C932.0,471.1 938.3,470.8 943.5,470.4 C948.7,470.0 952.1,469.4 956.4,468.9 C960.7,468.3 966.8,467.7 969.5,467.1 C972.2,466.5 970.6,466.1 972.7,465.3 C974.8,464.5 979.0,463.3 982.0,462.5 C985.0,461.7 988.5,460.5 990.7,460.4 C992.9,460.3 993.8,461.6 995.0,462.0 C996.2,462.4 997.1,462.9 998.1,462.8 C999.1,462.7 999.9,461.4 1000.9,461.5 C1001.9,461.6 1003.0,462.9 1004.0,463.5 C1005.0,464.1 1005.9,465.5 1007.1,465.3 C1008.3,465.1 1009.6,463.4 1011.0,462.5 C1012.4,461.6 1013.3,460.6 1015.3,459.6 C1017.2,458.6 1020.0,456.5 1022.7,456.3 C1025.4,456.1 1028.6,457.3 1031.7,458.7 C1034.8,460.1 1038.0,462.9 1041.5,464.5 C1045.0,466.1 1049.6,468.1 1052.9,468.2 C1056.2,468.3 1059.1,466.2 1061.1,465.3 C1063.1,464.4 1063.9,463.5 1065.0,463.0 C1066.1,462.5 1067.0,462.3 1067.7,462.3 C1068.5,462.3 1069.0,462.5 1069.5,463.0 C1070.0,463.5 1070.4,464.0 1070.9,465.3 C1071.4,466.6 1071.2,469.6 1072.6,471.0 C1074.0,472.4 1076.2,472.8 1079.1,473.5 C1082.0,474.2 1085.9,475.0 1090.0,475.5 C1094.1,476.0 1100.4,476.7 1103.7,476.7 C1107.0,476.7 1108.1,475.9 1110.0,475.5 C1111.9,475.1 1113.8,474.1 1115.1,474.3 C1116.3,474.5 1116.7,475.7 1117.5,476.5 C1118.3,477.3 1117.9,478.4 1120.0,479.2 C1122.1,480.0 1126.7,480.8 1130.0,481.2 C1133.3,481.6 1135.0,481.6 1140.0,481.8 C1145.0,482.0 1150.0,482.2 1160.0,482.6 C1170.0,483.0 1183.3,483.5 1200.0,483.9 C1216.7,484.3 1242.7,484.5 1260.0,484.8 C1277.3,485.1 1296.4,485.5 1303.7,485.6" fill="none" stroke="#149a68" stroke-width="2.2" stroke-linejoin="round" stroke-linecap="round"/>

<line x1="90.5" y1="9" x2="90.5" y2="530.8" stroke="#1a1a1a" stroke-width="2"/><line x1="89.3" y1="529.9" x2="685.5" y2="529.9" stroke="#303030" stroke-width="2.2"/><line x1="709" y1="529.9" x2="1304.5" y2="529.9" stroke="#303030" stroke-width="2.2"/><line x1="676.7" y1="539.7" x2="696.5" y2="520.1" stroke="#1a1a1a" stroke-width="2"/><line x1="698.3" y1="539.7" x2="718.1" y2="519.9" stroke="#1a1a1a" stroke-width="2"/><line x1="80" y1="491.3" x2="90" y2="491.3" stroke="#1a1a1a" stroke-width="2"/><line x1="80" y1="414.2" x2="90" y2="414.2" stroke="#1a1a1a" stroke-width="2"/><line x1="80" y1="337.1" x2="90" y2="337.1" stroke="#1a1a1a" stroke-width="2"/><line x1="80" y1="260.0" x2="90" y2="260.0" stroke="#1a1a1a" stroke-width="2"/><line x1="80" y1="182.9" x2="90" y2="182.9" stroke="#1a1a1a" stroke-width="2"/><line x1="80" y1="105.8" x2="90" y2="105.8" stroke="#1a1a1a" stroke-width="2"/><line x1="80" y1="28.7" x2="90" y2="28.7" stroke="#1a1a1a" stroke-width="2"/><line x1="85" y1="529.9" x2="90" y2="529.9" stroke="#1a1a1a" stroke-width="2"/><line x1="85" y1="452.8" x2="90" y2="452.8" stroke="#1a1a1a" stroke-width="2"/><line x1="85" y1="375.7" x2="90" y2="375.7" stroke="#1a1a1a" stroke-width="2"/><line x1="85" y1="298.6" x2="90" y2="298.6" stroke="#1a1a1a" stroke-width="2"/><line x1="85" y1="221.5" x2="90" y2="221.5" stroke="#1a1a1a" stroke-width="2"/><line x1="85" y1="144.4" x2="90" y2="144.4" stroke="#1a1a1a" stroke-width="2"/><line x1="85" y1="67.2" x2="90" y2="67.2" stroke="#1a1a1a" stroke-width="2"/><line x1="90.1" y1="529" x2="90.1" y2="540" stroke="#1a1a1a" stroke-width="2"/><line x1="238.8" y1="529" x2="238.8" y2="540" stroke="#1a1a1a" stroke-width="2"/><line x1="388.2" y1="529" x2="388.2" y2="540" stroke="#1a1a1a" stroke-width="2"/><line x1="537.3" y1="529" x2="537.3" y2="540" stroke="#1a1a1a" stroke-width="2"/><line x1="807.6" y1="529" x2="807.6" y2="540" stroke="#1a1a1a" stroke-width="2"/><line x1="932.0" y1="529" x2="932.0" y2="540" stroke="#1a1a1a" stroke-width="2"/><line x1="1056.0" y1="529" x2="1056.0" y2="540" stroke="#1a1a1a" stroke-width="2"/><line x1="1180.0" y1="529" x2="1180.0" y2="540" stroke="#1a1a1a" stroke-width="2"/><line x1="1304.0" y1="529" x2="1304.0" y2="540" stroke="#1a1a1a" stroke-width="2"/><line x1="1087.7" y1="25.8" x2="1149.8" y2="25.8" stroke="#707070" stroke-width="2.2"/><line x1="1087.7" y1="59.2" x2="1149.8" y2="59.2" stroke="#cf5558" stroke-width="2.2"/><line x1="1087.7" y1="92.6" x2="1149.8" y2="92.6" stroke="#3a82bf" stroke-width="2.2"/><line x1="1087.7" y1="125.9" x2="1149.8" y2="125.9" stroke="#17a06e" stroke-width="2.2"/>
<text transform="translate(72.40,497.60) scale(0.99000,0.99500)" font-size="22" text-anchor="end" font-family="Liberation Serif">0.0</text><text transform="translate(72.40,420.50) scale(0.99000,0.99500)" font-size="22" text-anchor="end" font-family="Liberation Serif">0.2</text><text transform="translate(72.40,343.40) scale(0.99000,0.99500)" font-size="22" text-anchor="end" font-family="Liberation Serif">0.4</text><text transform="translate(72.40,266.30) scale(0.99000,0.99500)" font-size="22" text-anchor="end" font-family="Liberation Serif">0.6</text><text transform="translate(72.40,189.20) scale(0.99000,0.99500)" font-size="22" text-anchor="end" font-family="Liberation Serif">0.8</text><text transform="translate(72.40,112.10) scale(0.99000,0.99500)" font-size="22" text-anchor="end" font-family="Liberation Serif">1.0</text><text transform="translate(72.40,35.00) scale(0.99000,0.99500)" font-size="22" text-anchor="end" font-family="Liberation Serif">1.2</text><text transform="translate(90.10,564.30) scale(1.00000,1.00500)" font-size="22" text-anchor="middle" font-family="Liberation Serif">500</text><text transform="translate(238.80,564.30) scale(1.00000,1.00500)" font-size="22" text-anchor="middle" font-family="Liberation Serif">750</text><text transform="translate(388.20,564.30) scale(1.00000,1.00500)" font-size="22" text-anchor="middle" font-family="Liberation Serif">1000</text><text transform="translate(537.30,564.30) scale(1.00000,1.00500)" font-size="22" text-anchor="middle" font-family="Liberation Serif">1250</text><text transform="translate(807.60,564.30) scale(1.00000,1.00500)" font-size="22" text-anchor="middle" font-family="Liberation Serif">3000</text><text transform="translate(932.00,564.30) scale(1.00000,1.00500)" font-size="22" text-anchor="middle" font-family="Liberation Serif">3250</text><text transform="translate(1056.00,564.30) scale(1.00000,1.00500)" font-size="22" text-anchor="middle" font-family="Liberation Serif">3500</text><text transform="translate(1180.00,564.30) scale(1.00000,1.00500)" font-size="22" text-anchor="middle" font-family="Liberation Serif">3750</text><text transform="translate(1304.00,564.30) scale(1.00000,1.00500)" font-size="22" text-anchor="middle" font-family="Liberation Serif">4000</text><text transform="translate(584.20,600.70) scale(1.02700,1.00000)" font-size="26.6" font-family="Liberation Serif">Wave number (cm<tspan font-size="16" dy="-10.5">&#8722;1</tspan><tspan dy="10.5">)</tspan></text><text transform="translate(33.8,331.8) rotate(-90)" x="0" y="0" font-size="26.6" font-family="Liberation Serif">Absorbance</text><text transform="translate(174.00,66.40) scale(1.01600,1.00000)" font-size="32" font-family="Liberation Serif">Si&#8211;(CH<tspan font-size="20" dy="9.3">3</tspan><tspan dy="-9.3">)</tspan><tspan font-size="20.5" dy="9.3" dx="1.1">2</tspan></text><text transform="translate(338.40,50.40) scale(1.00000,1.00000)" font-size="32.8" font-family="Liberation Serif">Si&#8211;O&#8211;Si</text><text transform="translate(497.60,331.10) scale(1.00000,1.00000)" font-size="32" font-family="Liberation Serif">Si&#8211;CH<tspan font-size="21" dy="8">3</tspan></text><text transform="translate(1000.80,410.60) scale(1.00000,1.00000)" font-size="32" font-family="Liberation Serif">&#8211;OH</text><text transform="translate(1155.00,34.90) scale(1.02200,1.00000)" font-size="26.6" font-family="Liberation Serif" font-style="italic">Fresh sample</text><text transform="translate(1155.00,68.80) scale(1.00000,1.00000)" font-size="26.6" font-family="Liberation Serif">3.08 kV</text><text transform="translate(1155.00,102.20) scale(1.00000,1.00000)" font-size="26.6" font-family="Liberation Serif">3.85 kV</text><text transform="translate(1155.00,135.50) scale(1.00000,1.00000)" font-size="26.6" font-family="Liberation Serif">4.86 kV</text>
</svg>
</body></html>
